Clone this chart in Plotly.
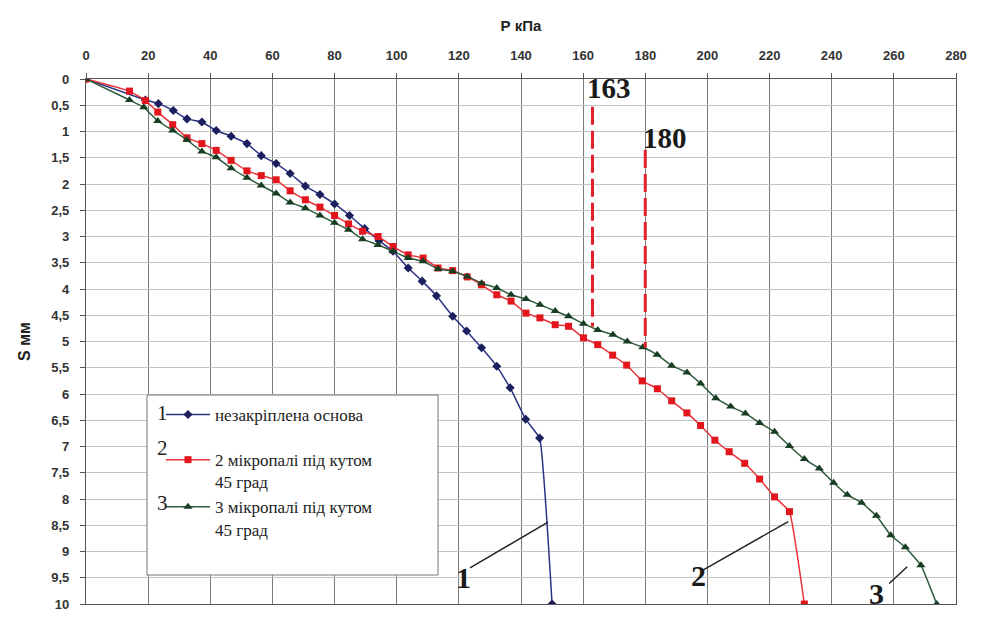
import plotly.graph_objects as go

# Series 1: unreinforced base (P kPa, S mm)
p1 = [0, 19.1, 23.3, 28.1, 32.5, 37.3, 41.9, 46.7, 51.8, 56.4, 61.2, 65.7, 70.6, 75.3, 80.0, 84.8,
      89.7, 94.3, 98.8, 103.7, 108.2, 112.8, 118.0, 122.5, 127.3, 132.2, 136.5, 141.5, 146.0, 150.0]
s1 = [0, 0.40, 0.47, 0.60, 0.76, 0.82, 0.98, 1.09, 1.23, 1.46, 1.61, 1.80, 2.04, 2.20, 2.38, 2.60,
      2.85, 3.08, 3.28, 3.60, 3.85, 4.13, 4.52, 4.80, 5.12, 5.47, 5.88, 6.48, 6.84, 10.0]

# Series 2: 2 micropiles at 45 deg
p2 = [0, 14.0, 19.1, 23.1, 27.9, 32.5, 37.3, 41.9, 46.7, 51.8, 56.4, 61.2, 65.7, 70.6, 75.3, 80.0,
      84.5, 89.0, 94.0, 98.8, 103.7, 108.5, 113.3, 118.0, 122.7, 127.3, 132.2, 136.8, 141.6, 146.1,
      151.0, 155.3, 160.1, 164.7, 169.5, 174.0, 179.0, 183.9, 188.5, 193.4, 197.8, 202.4, 207.0,
      212.0, 216.8, 221.6, 226.4, 231.2]
s2 = [0, 0.23, 0.41, 0.63, 0.87, 1.12, 1.23, 1.36, 1.55, 1.75, 1.84, 1.92, 2.13, 2.30, 2.44, 2.60,
      2.76, 2.90, 3.00, 3.19, 3.35, 3.41, 3.60, 3.65, 3.77, 3.92, 4.11, 4.23, 4.46, 4.55,
      4.68, 4.71, 4.93, 5.06, 5.26, 5.45, 5.75, 5.90, 6.13, 6.36, 6.60, 6.88, 7.10,
      7.32, 7.62, 7.96, 8.24, 10.0]

# Series 3: 3 micropiles at 45 deg
p3 = [0, 14.0, 18.6, 23.1, 27.9, 32.5, 37.3, 41.9, 46.7, 51.8, 56.4, 61.2, 65.7, 70.6, 75.3, 80.0,
      84.5, 89.0, 94.0, 98.8, 103.7, 108.5, 113.3, 118.0, 122.7, 127.3, 132.2, 136.8, 141.6, 146.1,
      151.0, 155.3, 160.1, 164.7, 169.6, 174.2, 179.2, 183.8, 188.5, 193.4, 197.8, 202.7, 207.5,
      212.2, 216.8, 221.6, 226.4, 231.2, 236.0, 240.6, 245.0, 249.6, 254.4, 259.0, 263.7, 268.7, 273.8]
s3 = [0, 0.40, 0.54, 0.80, 0.98, 1.16, 1.38, 1.49, 1.70, 1.88, 2.03, 2.18, 2.35, 2.46, 2.60, 2.74,
      2.87, 3.05, 3.16, 3.28, 3.41, 3.47, 3.62, 3.66, 3.76, 3.89, 3.98, 4.11, 4.19, 4.30,
      4.42, 4.52, 4.66, 4.78, 4.87, 5.00, 5.11, 5.25, 5.46, 5.59, 5.80, 6.08, 6.24,
      6.37, 6.55, 6.72, 6.99, 7.24, 7.42, 7.69, 7.92, 8.07, 8.32, 8.69, 8.92, 9.26, 10.0]

names = ["незакріплена основа", "2 мікропалі під кутом<br>45 град", "3 мікропалі під кутом<br>45 град"]

# Marked loads (dashed verticals)
mark_p = [163, 180]
mark_s_top = [0.53, 1.35]
mark_s_bot = [4.72, 5.12]
mark_lbl = ["163", "180"]
mark_lbl_p = [168.3, 186.5]
mark_lbl_s = [0.17, 1.12]

# Curve labels with leader lines: label pos, line start, line end
curve_lbl = ["1", "2", "3"]
lbl_p = [121.5, 197.0, 254.5]
lbl_s = [9.5, 9.45, 9.8]
lead_p0 = [123.6, 198.7, 258.5]
lead_s0 = [9.31, 9.35, 9.61]
lead_p1 = [148.7, 226.0, 264.3]
lead_s1 = [8.44, 8.43, 9.29]

SERIF = "Liberation Serif, Times New Roman, serif"
SANS = "Liberation Sans, Arial, sans-serif"

# page body has an 8px default margin: figure placed at (8, 8)
OFF = 8
L, T = 86, 79          # plot-area top-left in the window
PW, PH = 870, 525      # plot-area size


def px_x(px):
    return (px - L) / PW


def px_y(py):
    return 1 - (py - T) / PH


fig = go.Figure()
fig.add_trace(go.Scatter(
    x=p1, y=s1, mode="lines+markers", name=names[0], legendgroup="a",
    line=dict(color="#2b3385", width=1.5, shape="spline", smoothing=0.3),
    marker=dict(symbol="diamond", size=7, color="#1b1f5e")))
fig.add_trace(go.Scatter(
    x=p2, y=s2, mode="lines+markers", name=names[1], legendgroup="b",
    line=dict(color="#e8343a", width=1.5, shape="spline", smoothing=0.3),
    marker=dict(symbol="square", size=7, color="#e3161e")))
fig.add_trace(go.Scatter(
    x=p3, y=s3, mode="lines+markers", name=names[2], legendgroup="b",
    line=dict(color="#2f5a3c", width=1.5, shape="spline", smoothing=0.3),
    marker=dict(symbol="triangle-up", size=8, color="#173d22")))

shapes = []
# legend box
shapes.append(dict(type="rect", xref="paper", yref="paper",
                   x0=px_x(147), x1=px_x(438), y0=px_y(575), y1=px_y(395),
                   fillcolor="white", line=dict(color="#777", width=1), layer="above"))
for i in range(len(mark_p)):
    shapes.append(dict(type="line", xref="x", yref="y", x0=mark_p[i], x1=mark_p[i],
                       y0=mark_s_top[i], y1=mark_s_bot[i],
                       line=dict(color="#e0202a", width=3, dash="18px,6px")))
for i in range(len(curve_lbl)):
    shapes.append(dict(type="line", xref="x", yref="y", x0=lead_p0[i], y0=lead_s0[i],
                       x1=lead_p1[i], y1=lead_s1[i], line=dict(color="#222", width=1.5)))

annotations = []
for i in range(len(mark_p)):
    annotations.append(dict(x=mark_lbl_p[i], y=mark_lbl_s[i], xref="x", yref="y",
                            text="<b>%s</b>" % mark_lbl[i], showarrow=False,
                            font=dict(family=SERIF, size=29, color="#1a1a1a")))
for i in range(len(curve_lbl)):
    annotations.append(dict(x=lbl_p[i], y=lbl_s[i], xref="x", yref="y",
                            text="<b>%s</b>" % curve_lbl[i], showarrow=False,
                            font=dict(family=SERIF, size=30, color="#1a1a1a")))
# legend numbers
for i, py in enumerate([413, 462, 517]):
    annotations.append(dict(x=px_x(155), y=px_y(py), xref="paper", yref="paper",
                            text=curve_lbl[i], showarrow=False,
                            font=dict(family=SERIF, size=21, color="#222")))

fig.update_layout(
    width=987 - OFF, height=617 - OFF,
    margin=dict(l=L - OFF, r=987 - L - PW, t=T - OFF, b=617 - T - PH, autoexpand=False),
    paper_bgcolor="white", plot_bgcolor="white",
    separators=", ",
    showlegend=True,
    legend=dict(x=px_x(161), y=px_y(397), xanchor="left", yanchor="top",
                bgcolor="rgba(0,0,0,0)", borderwidth=0, tracegroupgap=20, traceorder="grouped",
                valign="top", itemwidth=44,
                font=dict(family=SERIF, size=17, color="#222")),
    shapes=shapes, annotations=annotations,
    xaxis=dict(side="top", range=[0, 280], dtick=20, tick0=0, automargin=False,
               showgrid=True, gridcolor="#7a7a7a", gridwidth=1, zeroline=False,
               showline=True, linecolor="#555", linewidth=1.2, mirror=True,
               ticks="outside", ticklen=5, tickcolor="#555", ticklabelstandoff=8,
               tickfont=dict(family=SANS, size=13, color="#333", weight="bold"),
               title=dict(text="<b>Р кПа</b>", standoff=12,
                          font=dict(family=SANS, size=15, color="#222"))),
    yaxis=dict(range=[10, 0], dtick=0.5, tick0=0, automargin=False,
               showgrid=True, gridcolor="#c4c4c4", gridwidth=1, zeroline=False,
               showline=True, linecolor="#555", linewidth=1.2, mirror=True,
               ticks="outside", ticklen=5, tickcolor="#555", ticklabelstandoff=8,
               tickfont=dict(family=SANS, size=13, color="#333", weight="bold"),
               title=dict(text="<b>S мм</b>", standoff=16,
                          font=dict(family=SANS, size=16, color="#222"))),
)

fig.write_html("out.html")
